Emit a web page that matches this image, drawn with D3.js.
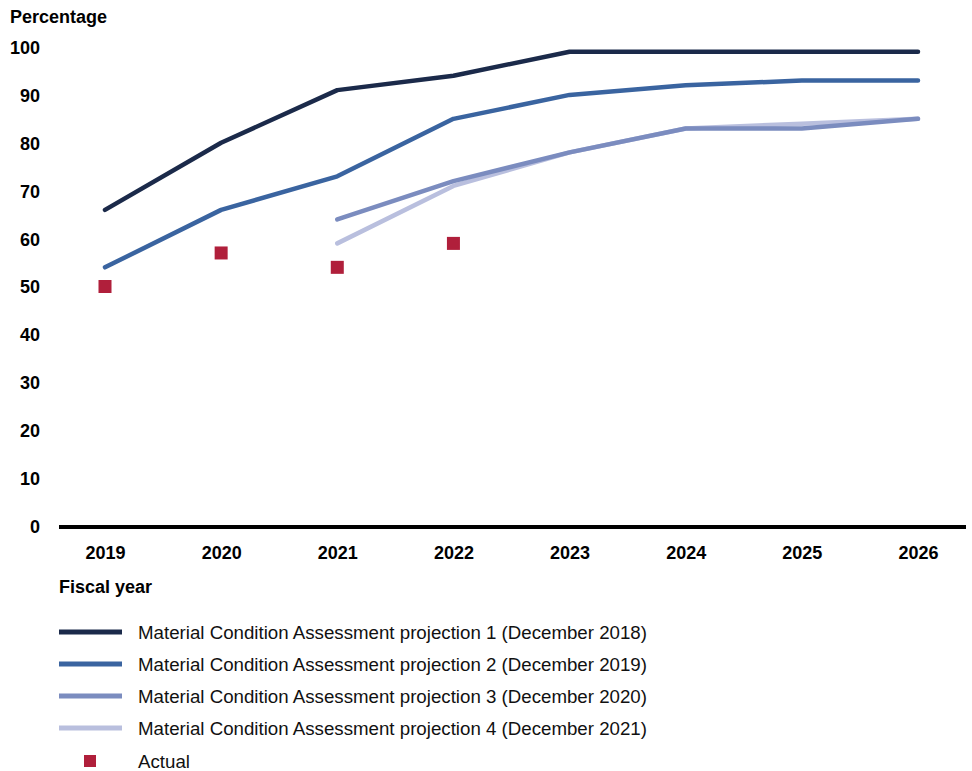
<!DOCTYPE html>
<html><head><meta charset="utf-8">
<script src="https://cdn.jsdelivr.net/npm/d3@7"></script>
<style>body{margin:0;background:#fff;} svg{display:block;font-family:"Liberation Sans",Arial,sans-serif;}</style>
</head><body>
<svg id="c" width="972" height="771"></svg>
<script>
const years = [2019, 2020, 2021, 2022, 2023, 2024, 2025, 2026];
const yTicks = [0, 10, 20, 30, 40, 50, 60, 70, 80, 90, 100];
const proj1 = [66, 80, 91, 94, 99, 99, 99, 99];
const proj2 = [54, 66, 73, 85, 90, 92, 93, 93];
const proj3 = [null, null, 64, 72, 78, 83, 83, 85];
const proj4 = [null, null, 59, 71, 78, 83, 84, 85];
const actual = [50, 57, 54, 59, null, null, null, null];
const seriesNames = [
  "Material Condition Assessment projection 1 (December 2018)",
  "Material Condition Assessment projection 2 (December 2019)",
  "Material Condition Assessment projection 3 (December 2020)",
  "Material Condition Assessment projection 4 (December 2021)",
  "Actual"
];
const colors = ["#1b2a4a", "#3a64a0", "#7b8cbf", "#b9bfde", "#b01f3b"];
const FF = "'Liberation Sans',Arial,sans-serif";

const svg = d3.select("#c");
const x = d3.scalePoint().domain(years).range([105, 918]);
const y = d3.scaleLinear().domain([0, 100]).range([526, 47]);

// y axis labels
const yAxis = d3.axisLeft(y).tickValues(yTicks).tickSize(0).tickPadding(0);
const gy = svg.append("g").attr("transform", "translate(40,0)").call(yAxis);
gy.select(".domain").remove();
gy.selectAll("text").attr("font-size", 18).attr("font-weight", "bold").attr("fill", "#000")
  .attr("font-family", FF).attr("dy", "0.36em");

svg.append("text").attr("x", 10).attr("y", 23).text("Percentage")
  .attr("font-size", 18).attr("font-weight", "bold");

// x axis
const xAxis = d3.axisBottom(x).tickSize(0).tickPadding(0);
const gx = svg.append("g").attr("transform", "translate(0,527)").call(xAxis);
gx.select(".domain").remove();
gx.selectAll("text").attr("font-size", 18).attr("font-weight", "bold").attr("fill", "#000")
  .attr("y", 32).attr("dy", 0).attr("font-family", FF);
svg.append("line").attr("x1", 59).attr("x2", 966).attr("y1", 527).attr("y2", 527)
  .attr("stroke", "#000").attr("stroke-width", 4);

svg.append("text").attr("x", 59).attr("y", 593).text("Fiscal year")
  .attr("font-size", 18).attr("font-weight", "bold");

const line = d3.line().defined(d => d.v != null).x(d => x(d.yr)).y(d => y(d.v));
const series = [proj1, proj2, proj3, proj4];
const order = [0, 1, 3, 2];
order.forEach(i => {
  const data = years.map((yr, j) => ({yr, v: series[i][j]}));
  svg.append("path").datum(data).attr("d", line).attr("fill", "none")
    .attr("stroke", colors[i]).attr("stroke-width", 4.5)
    .attr("stroke-linecap", "round").attr("stroke-linejoin", "round");
});

const sq = 13;
svg.selectAll("rect.act").data(years.map((yr, j) => ({yr, v: actual[j]})).filter(d => d.v != null))
  .enter().append("rect").attr("class", "act")
  .attr("x", d => x(d.yr) - sq / 2).attr("y", d => y(d.v) - sq / 2)
  .attr("width", sq).attr("height", sq).attr("fill", colors[4]);

// legend
const legY = [632, 664, 696, 728, 761];
seriesNames.forEach((name, i) => {
  const g = svg.append("g");
  if (i < 4) {
    g.append("line").attr("x1", 59).attr("x2", 122).attr("y1", legY[i]).attr("y2", legY[i])
      .attr("stroke", colors[i]).attr("stroke-width", 5);
  } else {
    g.append("rect").attr("x", 84).attr("y", legY[i] - 6).attr("width", 12).attr("height", 12)
      .attr("fill", colors[i]);
  }
  g.append("text").attr("x", 138).attr("y", legY[i]).attr("dy", "0.35em")
    .attr("font-size", 18.7).attr("fill", "#111").text(name);
});
</script>
</body></html>
